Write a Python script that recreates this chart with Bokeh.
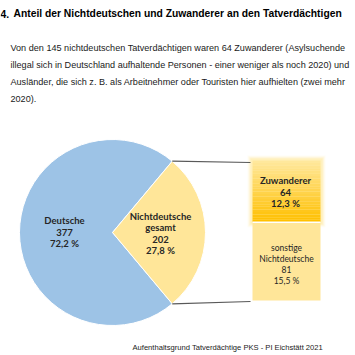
import math
from bokeh.plotting import figure
from bokeh.embed import file_html
from bokeh.resources import INLINE
from bokeh.core.properties import value

# ---- data ----
pie_labels = ["Deutsche", "Nichtdeutsche gesamt"]
pie_counts = [377, 202]
pie_share = [72.2, 27.8]
bar_labels = ["Zuwanderer", "sonstige Nichtdeutsche"]
bar_counts = [64, 81]
bar_share = [12.3, 15.5]

title_num = "4."
title_text = "Anteil der Nichtdeutschen und Zuwanderer an den Tatverdächtigen"
para_lines = [
    "Von den 145 nichtdeutschen Tatverdächtigen waren 64 Zuwanderer (Asylsuchende",
    "illegal sich in Deutschland aufhaltende Personen - einer weniger als noch 2020) und",
    "Ausländer, die sich z. B. als Arbeitnehmer oder Touristen hier aufhielten (zwei mehr",
    "2020).",
]
footer = "Aufenthaltsgrund Tatverdächtige PKS - PI Eichstätt 2021"

W = H = 355
def Y(py):
    return H - py

p = figure(width=W, height=H, x_range=(0, W), y_range=(0, H), min_border=0,
           toolbar_location=None, output_backend="svg")
p.axis.visible = False
p.grid.visible = False
p.outline_line_color = None
p.background_fill_color = "white"

BLUE = "#9DC3E6"
LY = "#FFE699"

# ---- pie ----
cx, cy, r = 112, Y(232), 93
nd = pie_share[1] / 100.0
half = nd * math.pi
p.wedge(x=[cx], y=[cy], radius=r, start_angle=[half], end_angle=[2 * math.pi - half],
        fill_color=BLUE, line_color="white", line_width=1)
p.wedge(x=[cx], y=[cy], radius=r, start_angle=[-half], end_angle=[half],
        fill_color=LY, line_color="white", line_width=1)

# ---- bar of pie ----
bx0, bx1 = 252, 320
btop = 160
bar_total_px = 140
scale = bar_total_px / sum(bar_counts)
z_h = bar_counts[0] * scale
s_h = bar_counts[1] * scale
z_top, z_bot = btop, btop + z_h
s_top, s_bot = z_bot, z_bot + s_h

# glow
for i, a in enumerate([0.08, 0.12, 0.18, 0.25]):
    g = 5 - i
    p.quad(left=[bx0 - g], right=[bx1 + g], top=[Y(z_top - g)], bottom=[Y(z_bot + g)],
           fill_color="#FFE27A", fill_alpha=a, line_color=None)
# gradient for Zuwanderer
n = 24
c0 = (0xFF, 0xE8, 0x9C)
c1 = (0xFF, 0xC0, 0x00)
for i in range(n):
    t = i / (n - 1)
    col = "#%02X%02X%02X" % tuple(int(c0[k] + (c1[k] - c0[k]) * t) for k in range(3))
    p.quad(left=[bx0], right=[bx1], top=[Y(z_top + z_h * i / n)],
           bottom=[Y(z_top + z_h * (i + 1) / n)], fill_color=col, line_color=None)
p.quad(left=[bx0], right=[bx1], top=[Y(s_top)], bottom=[Y(s_bot)],
       fill_color=LY, line_color=None)
p.segment(x0=[bx0], y0=[Y(s_top)], x1=[bx1], y1=[Y(s_top)], line_color="white", line_width=1.5)

# connector lines
ex = cx + r * math.cos(half)
ey_top = cy + r * math.sin(half)
ey_bot = cy - r * math.sin(half)
p.segment(x0=[ex, ex], y0=[ey_top, ey_bot], x1=[bx0 - 2, bx0 - 2], y1=[Y(z_top + 2), Y(s_bot + 1)],
          line_color="#595959", line_width=1.2)

# ---- labels ----
LF = value("Lato")
def block(x, py0, lines, bold, size="9.5px", step=11.5):
    p.text(x=[x] * len(lines), y=[Y(py0 + i * step) for i in range(len(lines))], text=lines,
           text_font=LF, text_font_size=size, text_font_style="bold" if bold else "normal",
           text_align="center", text_baseline="middle", text_color="#262626")

block(64, 220, [pie_labels[0], str(pie_counts[0]), f"{pie_share[0]:.1f} %".replace(".", ",")], True)
block(160, 215.5, ["Nichtdeutsche", "gesamt", str(pie_counts[1]), f"{pie_share[1]:.1f} %".replace(".", ",")], True)
block(285, 180, [bar_labels[0], str(bar_counts[0]), f"{bar_share[0]:.1f} %".replace(".", ",")], True, step=11.5)
block(286, 247, ["sonstige", "Nichtdeutsche", str(bar_counts[1]), f"{bar_share[1]:.1f} %".replace(".", ",")], False, size="8.5px", step=11)

# ---- title, paragraph, footer ----
AF = value("Liberation Sans")
p.text(x=[0], y=[Y(13)], text=[title_num], text_font=AF, text_font_size="10.3px",
       text_font_style="bold", text_baseline="middle", text_color="black")
p.text(x=[13], y=[Y(13)], text=[title_text], text_font=AF, text_font_size="10.3px",
       text_font_style="bold", text_baseline="middle", text_color="black")
p.text(x=[10] * len(para_lines), y=[Y(47 + i * 17) for i in range(len(para_lines))], text=para_lines,
       text_font=AF, text_font_size="9.1px", text_baseline="middle", text_color="#1a1a1a")
p.text(x=[132], y=[Y(347)], text=[footer], text_font=AF, text_font_size="7.6px",
       text_baseline="middle", text_color="#1a1a1a")

open("out.html", "w").write(file_html(p, INLINE))
